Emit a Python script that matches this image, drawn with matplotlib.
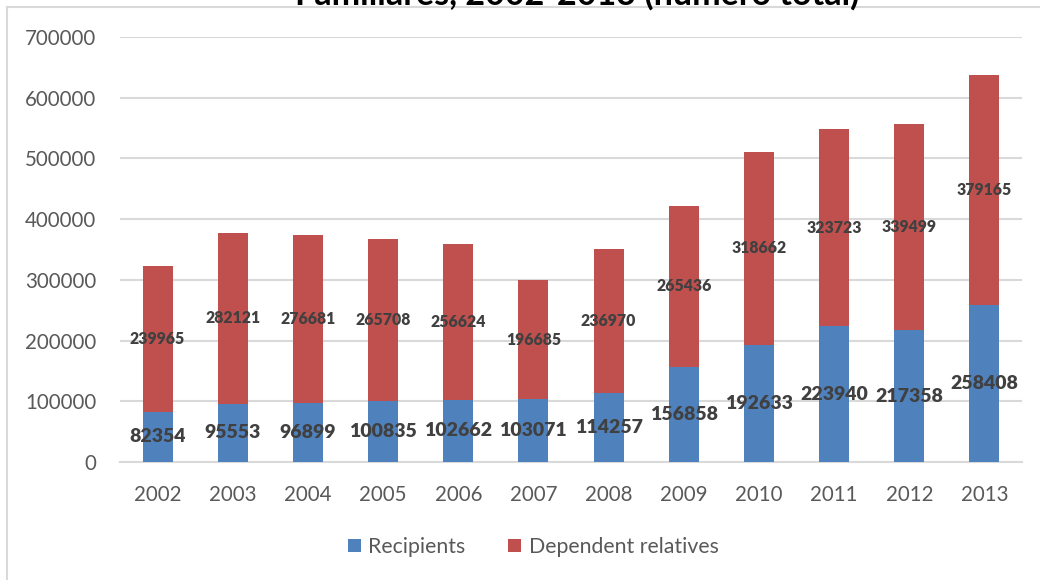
import matplotlib
matplotlib.use("Agg")
import matplotlib.pyplot as plt
from matplotlib.lines import Line2D
from matplotlib.patches import Patch
import numpy as np

years = ["2002", "2003", "2004", "2005", "2006", "2007", "2008", "2009", "2010", "2011", "2012", "2013"]
recipients = [82354, 95553, 96899, 100835, 102662, 103071, 114257, 156858, 192633, 223940, 217358, 258408]
dependents = [239965, 282121, 276681, 265708, 256624, 196685, 236970, 265436, 318662, 323723, 339499, 379165]
series_names = ["Recipients", "Dependent relatives"]
title = "Familiares, 2002-2013 (número total)"
yticks = [0, 100000, 200000, 300000, 400000, 500000, 600000, 700000]

BLUE = "#4F81BD"
RED = "#C0504D"
GRID = "#D9D9D9"
TXT = "#595959"
LBL = "#404040"
FONT = ["Lato", "DejaVu Sans"]

plt.rcParams["font.family"] = FONT

W, H = 1040, 580
fig = plt.figure(figsize=(W / 100, H / 100), dpi=100)
ax = fig.add_axes([120 / W, (H - 462) / H, (1022 - 120) / W, (462 - 37) / H])

x = np.arange(len(years))
ax.bar(x, recipients, width=0.4, color=BLUE, zorder=3, label=series_names[0])
ax.bar(x, dependents, width=0.4, bottom=recipients, color=RED, zorder=3, label=series_names[1])

for xi, r, d in zip(x, recipients, dependents):
    ax.text(xi, r / 2, str(r), ha="center", va="center", fontsize=14,
            fontweight="heavy", color=LBL, zorder=4)
    ax.text(xi, r + d / 2, str(d), ha="center", va="center", fontsize=11.3,
            fontweight="heavy", color=LBL, zorder=4)

ax.set_xlim(-0.5, len(years) - 0.5)
ax.set_ylim(0, 700000)
ax.set_yticks(yticks)
ax.set_yticklabels([str(v) for v in yticks])
ax.set_xticks(x)
ax.set_xticklabels(years)
ax.tick_params(axis="both", length=0, labelsize=14.8, colors=TXT)
ax.tick_params(axis="y", pad=17)
ax.tick_params(axis="x", pad=16.5)
ax.grid(axis="y", color=GRID, linewidth=1.5, zorder=0)
ax.set_axisbelow(True)
for s in ["top", "right", "left"]:
    ax.spines[s].set_visible(False)
ax.spines["bottom"].set_color(GRID)
ax.spines["bottom"].set_linewidth(1.5)

handles = [Patch(facecolor=BLUE, label=series_names[0]),
           Patch(facecolor=RED, label=series_names[1])]
fig.legend(handles=handles, loc="center", bbox_to_anchor=(533 / W, 1 - 547 / H),
           ncol=2, frameon=False, fontsize=15.3, labelcolor=TXT,
           handlelength=0.62, handleheight=0.62, handletextpad=0.35, columnspacing=2.0)

# chart border (top and left visible)
fig.add_artist(Line2D([7 / W, 1.0], [1 - 7 / H, 1 - 7 / H], color=GRID, linewidth=1.5,
                      transform=fig.transFigure))
fig.add_artist(Line2D([7 / W, 7 / W], [0, 1 - 7 / H], color=GRID, linewidth=1.5,
                      transform=fig.transFigure))

fig.text(577 / W, 1 - 5 / H, title, ha="center", va="baseline", fontsize=24.5,
         fontweight="bold", color="black")

fig.savefig("out.png", dpi=100, facecolor="white")
